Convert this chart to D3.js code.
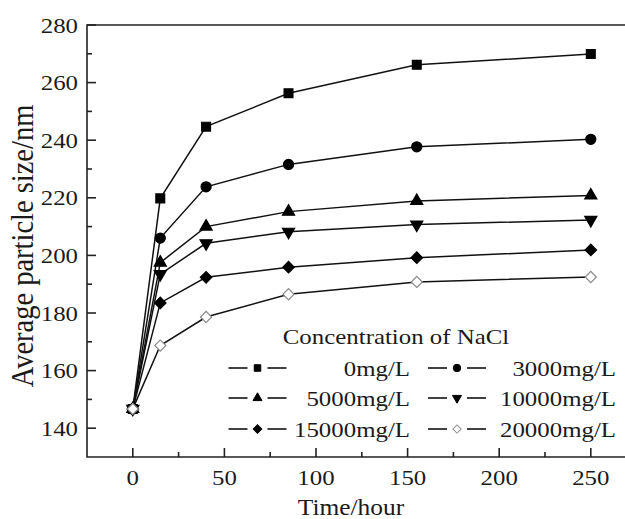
<!DOCTYPE html>
<html>
<head>
<meta charset="utf-8">
<script src="https://cdn.jsdelivr.net/npm/d3@7"></script>
<style>
  html, body { margin: 0; padding: 0; background: #fff; }
  svg { display: block; }
</style>
</head>
<body>
<div id="chart"></div>
<script>
// time points (hours)
var timeHours = [0, 15, 40, 85, 155, 250];

// average particle size (nm) per NaCl concentration
var series0 = [146.7, 219.8, 244.7, 256.3, 266.2, 269.9];
var series3000 = [146.7, 206.0, 223.8, 231.6, 237.7, 240.3];
var series5000 = [146.7, 197.5, 210.0, 215.2, 218.9, 220.8];
var series10000 = [146.7, 193.5, 204.2, 208.2, 210.7, 212.3];
var series15000 = [146.7, 183.5, 192.4, 195.9, 199.2, 201.9];
var series20000 = [146.7, 168.7, 178.6, 186.5, 190.8, 192.5];

var seriesLabels = ["0mg/L", "3000mg/L", "5000mg/L", "10000mg/L", "15000mg/L", "20000mg/L"];
var xTicks = [0, 50, 100, 150, 200, 250];
var yTicks = [140, 160, 180, 200, 220, 240, 260, 280];

var W = 625, H = 519;
var sx = 1.13; // the source image is slightly stretched horizontally
var serif = "Liberation Serif";
var ink = "#1a1a1a";

var x = d3.scaleLinear().domain([-25, 275]).range([87, 636.6]);
var y = d3.scaleLinear().domain([130, 280]).range([457, 25]);

var svg = d3.select("#chart").append("svg")
    .attr("width", W)
    .attr("height", H)
    .attr("font-family", serif);

// marker shapes in series order
var shapes = [
    {type: d3.symbolSquare, size: 78, rot: 0, fill: "#000", stroke: "#000"},
    {type: d3.symbolCircle, size: 80, rot: 0, fill: "#000", stroke: "#000"},
    {type: d3.symbolTriangle, size: 64, rot: 0, fill: "#000", stroke: "#000"},
    {type: d3.symbolTriangle, size: 64, rot: 180, fill: "#000", stroke: "#000"},
    {type: d3.symbolSquare, size: 66, rot: 45, fill: "#000", stroke: "#000"},
    {type: d3.symbolSquare, size: 62, rot: 45, fill: "#fff", stroke: "#8a8a8a"}
];

var allSeries = [series0, series3000, series5000, series10000, series15000, series20000];

// frame
var frame = svg.append("g").attr("stroke", "#222").attr("stroke-width", 1.6).attr("fill", "none");
frame.append("path").attr("d", "M" + x.range()[1] + "," + y(280) + "H" + x(-25) + "V" + y(130) + "H" + x.range()[1]);

// x ticks (inward)
var xMinor = d3.range(25, 275, 50);
frame.selectAll(".xt").data(xTicks).enter().append("line")
    .attr("x1", d => x(d)).attr("x2", d => x(d))
    .attr("y1", y(130)).attr("y2", y(130) - 9);
frame.selectAll(".xm").data(xMinor).enter().append("line")
    .attr("x1", d => x(d)).attr("x2", d => x(d))
    .attr("y1", y(130)).attr("y2", y(130) - 5);

// y ticks (inward)
var yMinor = d3.range(150, 280, 20);
frame.selectAll(".yt").data(yTicks).enter().append("line")
    .attr("x1", x(-25)).attr("x2", x(-25) + 9)
    .attr("y1", d => y(d)).attr("y2", d => y(d));
frame.selectAll(".ym").data(yMinor).enter().append("line")
    .attr("x1", x(-25)).attr("x2", x(-25) + 5)
    .attr("y1", d => y(d)).attr("y2", d => y(d));

// tick labels
svg.selectAll(".xl").data(xTicks).enter().append("text")
    .attr("transform", d => "translate(" + x(d) + ",485) scale(" + sx + ",1)")
    .attr("text-anchor", "middle")
    .attr("font-family", serif)
    .attr("font-size", 22)
    .attr("fill", ink)
    .text(d => d);
svg.selectAll(".yl").data(yTicks).enter().append("text")
    .attr("transform", d => "translate(78," + (y(d) + 7.5) + ") scale(" + sx + ",1)")
    .attr("text-anchor", "end")
    .attr("font-family", serif)
    .attr("font-size", 22)
    .attr("fill", ink)
    .text(d => d);

// axis titles
svg.append("text")
    .attr("transform", "translate(351,515) scale(" + sx + ",1)")
    .attr("text-anchor", "middle")
    .attr("font-family", serif)
    .attr("font-size", 22.5)
    .attr("fill", ink)
    .text("Time/hour");
svg.append("text")
    .attr("transform", "translate(33,246) scale(" + sx + ",1) rotate(-90)")
    .attr("text-anchor", "middle")
    .attr("font-family", serif)
    .attr("font-size", 28.5)
    .attr("fill", ink)
    .text("Average particle size/nm");

// lines
var line = d3.line()
    .x((d, i) => x(timeHours[i]))
    .y(d => y(d));

svg.selectAll(".series").data(allSeries).enter().append("path")
    .attr("d", d => line(d))
    .attr("fill", "none")
    .attr("stroke", "#111")
    .attr("stroke-width", 1.5);

// markers
allSeries.forEach(function(vals, s) {
    var sh = shapes[s];
    var sym = d3.symbol().type(sh.type).size(sh.size);
    svg.append("g").selectAll("path").data(vals).enter().append("path")
        .attr("d", sym)
        .attr("transform", (d, i) => "translate(" + x(timeHours[i]) + "," + y(d) + ") rotate(" + sh.rot + ")")
        .attr("fill", sh.fill)
        .attr("stroke", sh.stroke)
        .attr("stroke-width", 1.2);
});

// legend
var legend = svg.append("g");
legend.append("text")
    .attr("transform", "translate(396,344) scale(" + sx + ",1)")
    .attr("text-anchor", "middle")
    .attr("font-family", serif)
    .attr("font-size", 22)
    .attr("fill", ink)
    .text("Concentration of NaCl");

var legendCols = [
    {sym: 257.5, text: 410},
    {sym: 457, text: 616}
];
var legendRows = [368, 398, 429];

seriesLabels.forEach(function(lbl, s) {
    var col = legendCols[s % 2], row = legendRows[Math.floor(s / 2)];
    var sh = shapes[s];
    var g = legend.append("g");
    g.append("line").attr("x1", col.sym - 29).attr("x2", col.sym - 10)
        .attr("y1", row).attr("y2", row).attr("stroke", "#111").attr("stroke-width", 1.6);
    g.append("line").attr("x1", col.sym + 10).attr("x2", col.sym + 29)
        .attr("y1", row).attr("y2", row).attr("stroke", "#111").attr("stroke-width", 1.6);
    g.append("path")
        .attr("d", d3.symbol().type(sh.type).size(sh.size * 0.55))
        .attr("transform", "translate(" + col.sym + "," + row + ") rotate(" + sh.rot + ")")
        .attr("fill", sh.fill)
        .attr("stroke", sh.stroke)
        .attr("stroke-width", 1);
    g.append("text")
        .attr("transform", "translate(" + col.text + "," + (row + 8) + ") scale(" + sx + ",1)")
        .attr("text-anchor", "end")
        .attr("font-family", serif)
        .attr("font-size", 22)
        .attr("fill", ink)
        .text(lbl);
});
</script>
</body>
</html>
